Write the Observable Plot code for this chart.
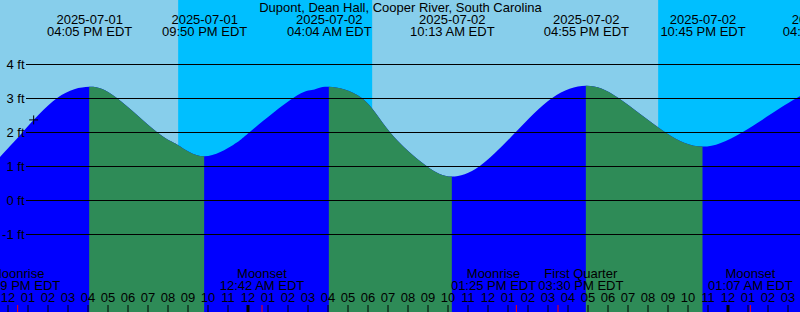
<!DOCTYPE html>
<html><head><meta charset="utf-8">
<script src="https://cdn.jsdelivr.net/npm/d3@7"></script>
<script src="https://cdn.jsdelivr.net/npm/@observablehq/plot@0.6"></script>
<style>
html,body{margin:0;padding:0;background:#fff;}
svg{display:block;}
</style></head><body><div id="chart"></div>
<script>
const title = "Dupont, Dean Hall, Cooper River, South Carolina";

// Tide curve readings (EDT) between the extremes
const curveTimes = ["2025-07-01 11:37","2025-07-01 12:46","2025-07-01 14:29","2025-07-01 17:28","2025-07-01 19:28","2025-07-01 20:31",
  "2025-07-01 23:17","2025-07-02 00:07","2025-07-02 02:17","2025-07-02 03:17",
  "2025-07-02 05:43","2025-07-02 07:07","2025-07-02 08:57",
  "2025-07-02 11:37","2025-07-02 13:25","2025-07-02 15:14",
  "2025-07-02 18:33","2025-07-02 20:52",
  "2025-07-03 00:46","2025-07-03 03:28"];
const curveLevels = [1.26, 2.0, 3.0, 3.0, 2.0, 1.62,
  1.62, 2.0, 3.0, 3.24,
  3.0, 2.0, 1.0,
  1.0, 2.0, 3.0,
  3.0, 2.0,
  2.0, 3.0];

// High / low tides
const extremeTimes = ["2025-07-01 16:05","2025-07-01 21:50","2025-07-02 04:04","2025-07-02 10:13","2025-07-02 16:55","2025-07-02 22:45","2025-07-03 04:51"];
const extremeLevels = [3.33, 1.29, 3.33, 0.69, 3.36, 1.57, 3.25];
const extremeDates = ["2025-07-01","2025-07-01","2025-07-02","2025-07-02","2025-07-02","2025-07-02","2025-07-03"];
const extremeClock = ["04:05 PM EDT","09:50 PM EDT","04:04 AM EDT","10:13 AM EDT","04:55 PM EDT","10:45 PM EDT","04:51 AM EDT"];

// Night (sunset -> sunrise)
const nightStart = ["2025-07-01 20:32","2025-07-02 20:32"];
const nightEnd   = ["2025-07-02 06:14","2025-07-03 06:14"];

// Moon events
const moonTimes = ["2025-07-01 12:29","2025-07-02 00:42","2025-07-02 13:25","2025-07-02 15:30","2025-07-03 01:07"];
const moonNames = ["Moonrise","Moonset","Moonrise","First Quarter","Moonset"];
const moonClock = ["12:29 PM EDT","12:42 AM EDT","01:25 PM EDT","03:30 PM EDT","01:07 AM EDT"];

const levelTicks = [-1, 0, 1, 2, 3, 4];
const midnights = ["2025-07-02 00:00","2025-07-03 00:00"];
const markTime = "2025-07-01 13:17", markLevel = 2.37;

// hours since 2025-07-01 00:00 EDT
function hrs(s) {
  const [d, t] = s.split(" ");
  const day = +d.slice(8, 10) - 1;
  const [h, m] = t.split(":").map(Number);
  return day * 24 + h + m / 60;
}

const xDomain = [11.625, 51.625];
const W = 800, H = 312, FS = 13, FONT = "Liberation Sans";

const curve = curveTimes.map((t, i) => ({t: hrs(t), v: curveLevels[i]}))
  .concat(extremeTimes.map((t, i) => ({t: hrs(t), v: extremeLevels[i]})))
  .sort((a, b) => a.t - b.t);
const extremes = extremeTimes.map((t, i) => ({t: hrs(t), v: extremeLevels[i], label: extremeDates[i] + "\n" + extremeClock[i]}));
const falling = [];
for (let i = 0; i < extremes.length - 1; i++) if (extremes[i + 1].v < extremes[i].v) falling.push([extremes[i].t, extremes[i + 1].t]);
const nights = nightStart.map((s, i) => ({x1: hrs(s), x2: hrs(nightEnd[i])}));

// moon labels: nudge apart when they would overlap
const ctx = document.createElement("canvas").getContext("2d");
ctx.font = `${FS}px '${FONT}'`;
const xs = Plot.scale({x: {domain: xDomain, range: [0, W]}});
const moons = moonTimes.map((t, i) => {
  const label = moonNames[i] + "\n" + moonClock[i];
  const w = Math.max(...label.split("\n").map(l => ctx.measureText(l).width));
  return {t: hrs(t), label, w, px: xs.apply(hrs(t))};
});
for (let k = 0; k < 5; k++) for (let i = 0; i < moons.length - 1; i++) {
  const a = moons[i], b = moons[i + 1];
  const need = (a.w + b.w) / 2 + 2;
  const d = b.px - a.px;
  if (d < need) { a.px -= (need - d) / 2; b.px += (need - d) / 2; }
}
moons.forEach(m => m.lx = xs.invert(m.px));

const hourTicks = d3.range(12, 52);
const hourLabel = h => String((h % 12) || 12).padStart(2, "0");

const yMin = -112 / 34, yMax = 200 / 34;

function clipX(intervals) {
  return (index, scales, values, dimensions, context, next) => {
    const g = next(index, scales, values, dimensions, context);
    const ns = "http://www.w3.org/2000/svg";
    const id = "clip" + Math.random().toString(36).slice(2);
    const cp = document.createElementNS(ns, "clipPath");
    cp.setAttribute("id", id);
    for (const [a, b] of intervals) {
      const r = document.createElementNS(ns, "rect");
      const x1 = scales.x(a), x2 = scales.x(b);
      r.setAttribute("x", x1); r.setAttribute("width", x2 - x1);
      r.setAttribute("y", 0); r.setAttribute("height", dimensions.height);
      cp.appendChild(r);
    }
    const wrap = document.createElementNS(ns, "g");
    wrap.appendChild(cp);
    g.setAttribute("clip-path", `url(#${id})`);
    wrap.appendChild(g);
    return wrap;
  };
}

const chart = Plot.plot({
  width: W, height: H,
  margin: 0,
  x: {domain: xDomain, axis: null},
  y: {domain: [yMin, yMax], axis: null},
  style: `font-family: '${FONT}'; font-size: ${FS}px; background: #87CEEB; color: black;`,
  marks: [
    Plot.frame({fill: "#87CEEB", stroke: "none"}),
    Plot.rect(nights, {x1: "x1", x2: "x2", fill: "#00BFFF"}),
    Plot.areaY(curve, {x: "t", y1: yMin, y2: "v", fill: "#0000FF", curve: "natural"}),
    Plot.areaY(curve, {x: "t", y1: yMin, y2: "v", fill: "#2E8B57", curve: "natural", render: clipX(falling)}),
    Plot.ruleY(levelTicks, {y: d => d, insetLeft: 26, stroke: "black"}),
    Plot.text(levelTicks, {y: d => d, text: d => `${d} ft`, frameAnchor: "left", dx: 24, textAnchor: "end", fill: "black"}),
    Plot.text([title], {text: d => d, frameAnchor: "top", dy: 7.7, lineAnchor: "middle", fill: "black"}),
    Plot.text(extremes, {x: "t", text: "label", frameAnchor: "top", dy: 25.7, lineAnchor: "middle", lineHeight: 12 / FS, fill: "black"}),
    Plot.text(moons, {x: "lx", text: "label", frameAnchor: "bottom", dy: -32.3, lineAnchor: "middle", lineHeight: 11.7 / FS, fill: "black"}),
    Plot.text(hourTicks, {x: d => d, text: hourLabel, frameAnchor: "bottom", dy: -14.3, lineAnchor: "middle", fill: "black"}),
    Plot.ruleX(hourTicks, {x: d => d, insetTop: 305, stroke: "black"}),
    Plot.ruleX(midnights, {x: hrs, insetTop: 305, stroke: "black", strokeWidth: 3}),
    Plot.ruleX(moons, {x: "t", insetTop: 305, stroke: "red"}),
    Plot.dot([{t: hrs(markTime), v: markLevel}], {x: "t", y: "v", symbol: "plus", r: 3, stroke: "black", strokeWidth: 1})
  ]
});
document.getElementById("chart").appendChild(chart);
</script></body></html>
